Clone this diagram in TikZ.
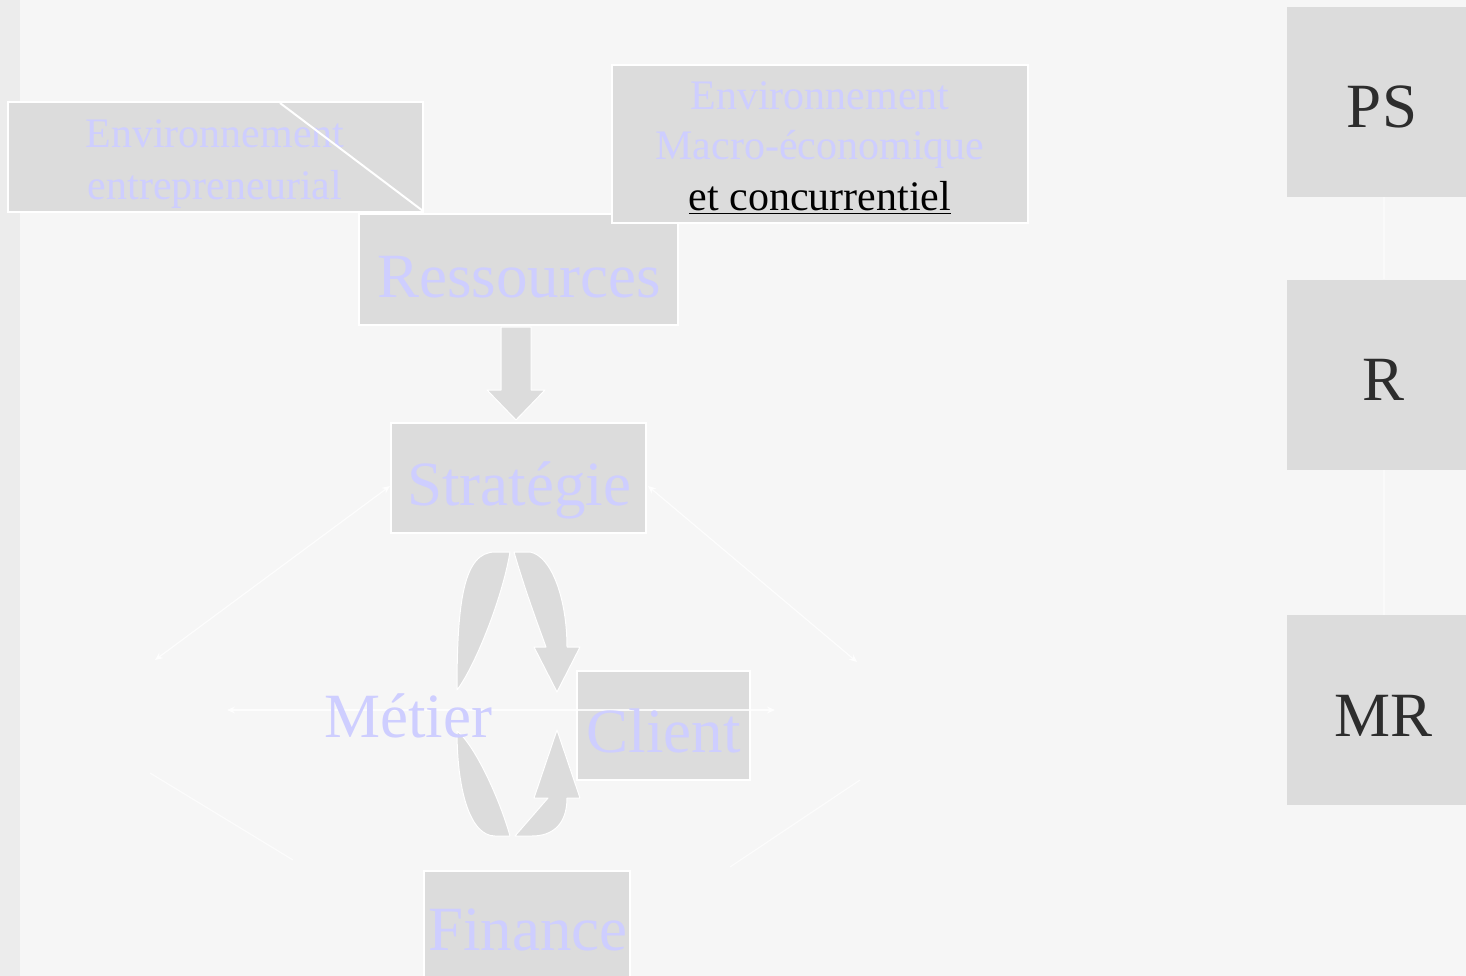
\documentclass[tikz,border=0pt]{standalone}
\usepackage{fontspec}
\setmainfont{Liberation Serif}
\usetikzlibrary{arrows.meta,calc}
\definecolor{paper}{RGB}{246,246,246}
\definecolor{paperedge}{RGB}{236,236,236}
\definecolor{boxgray}{RGB}{220,220,220}
\definecolor{lavtext}{RGB}{206,206,255}
\definecolor{darktext}{RGB}{45,45,45}
\newcommand\envsize{\fontsize{42}{50}\selectfont}
\newcommand\bigsize{\fontsize{63}{70}\selectfont}
\begin{document}
\begin{tikzpicture}[x=1pt,y=-1pt,
  box/.style={draw=white, line width=1.6pt, fill=boxgray, inner sep=0pt},
  sidebox/.style={fill=boxgray, inner sep=0pt, minimum width=182pt, minimum height=190pt},
  lav/.style={text=lavtext, inner sep=0pt, anchor=base},
  dark/.style={text=darktext, inner sep=0pt, anchor=base},
  guide/.style={draw=white, line width=1.1pt, opacity=0.85, {Stealth[length=8pt,width=7pt]}-{Stealth[length=8pt,width=7pt]}},
  faint/.style={draw=white, line width=1.1pt, opacity=0.7},
  blockfill/.style={fill=boxgray, draw=white, line width=1pt, line join=round}]
\useasboundingbox (0,0) rectangle (1466,976);
% paper
\fill[paper] (0,0) rectangle (1466,976);
\fill[paperedge] (0,0) rectangle (20,976);

% faint guide lines around the centre
\coordinate (gl) at (155,660);
\coordinate (gr) at (857,662);
\coordinate (hl) at (227,710);
\coordinate (hr) at (775,710);
\coordinate (ll1) at (150,773);
\coordinate (ll2) at (293,860);
\coordinate (lr1) at (860,780);
\coordinate (lr2) at (730,867);
\coordinate (sl) at (390,486);
\coordinate (sr) at (648,486);

% boxes
\node[box, minimum width=319pt, minimum height=111pt] (res) at (518.5,269.5) {};
\node[box, minimum width=415pt, minimum height=110pt] (envent) at (215.5,157) {};
\node[box, minimum width=416pt, minimum height=158pt] (macro) at (820,144) {};
\node[box, minimum width=255pt, minimum height=110pt] (strat) at (518.5,478) {};
\node[box, minimum width=173pt, minimum height=109pt] (client) at (663.5,725.5) {};
\node[box, minimum width=206pt, minimum height=110pt] (fin) at (527,926) {};
\node[sidebox] (ps) at (1378,102) {};
\node[sidebox] (rr) at (1378,374.5) {};
\node[sidebox] (mr) at (1378,710) {};

% faint separators in the right column
\draw[faint, opacity=0.5] ($(ps.south)+(6,0)$) -- ($(rr.north)+(6,0)$);
\draw[faint, opacity=0.5] ($(rr.south)+(6,0)$) -- ($(mr.north)+(6,0)$);

% block arrow from Ressources to Stratégie
\draw[blockfill] (501,327) -- (531,327) -- (531,390) -- (545,390)
  -- (516,420) -- (487,390) -- (501,390) -- cycle;

% curved cycle arrows between Stratégie and Finance
\draw[blockfill] (495,552) .. controls (464,552) and (457,600) .. (457,690)
  .. controls (474,668) and (502,600) .. (510,552) -- cycle;
\draw[blockfill] (457,731) .. controls (457,790) and (470,836) .. (495,836)
  -- (510,836) .. controls (500,800) and (475,745) .. (457,731) -- cycle;
\draw[blockfill] (514,552) .. controls (525,590) and (538,625) .. (546,647)
  -- (534,647) -- (557,692) -- (580,647) -- (567,647)
  .. controls (567,600) and (552,556) .. (530,552) -- cycle;
\draw[blockfill] (557,730) -- (580,798) -- (567,798)
  .. controls (567,825) and (552,836) .. (532,836) -- (515,836)
  -- (548,798) -- (534,798) -- cycle;

% guide lines
\draw[guide] (sl) -- (gl);
\draw[guide] (sr) -- (gr);
\draw[guide] (hl) -- (hr);
\draw[faint] (ll1) -- (ll2);
\draw[faint] (lr1) -- (lr2);

% texts
\node[lav, font=\envsize] (envent1) at (215,148) {Environnement};
\node[lav, font=\envsize] (envent2) at (215,200) {entrepreneurial};
\draw[white, line width=2pt] (280,103) -- (423,211);
\node[lav, font=\envsize] (macro1) at (820,110) {Environnement};
\node[lav, font=\envsize] (macro2) at (820,160) {Macro-économique};
\node[dark, text=black, font=\envsize] (macro3) at (820,211) {\underline{et concurrentiel}};
\node[lav, font=\bigsize] (tres) at (519,297) {Ressources};
\node[lav, font=\bigsize] (tstrat) at (519,505) {Stratégie};
\node[lav, font=\bigsize] (tmetier) at (408,737) {Métier};
\node[lav, font=\bigsize] (tclient) at (663.5,752) {Client};
\node[lav, font=\bigsize] (tfin) at (528,950) {Finance};
\node[dark, font=\bigsize] (tps) at (1382,128) {PS};
\node[dark, font=\bigsize] (tr) at (1383,400) {R};
\node[dark, font=\bigsize] (tmr) at (1383,736) {MR};
\end{tikzpicture}
\end{document}
